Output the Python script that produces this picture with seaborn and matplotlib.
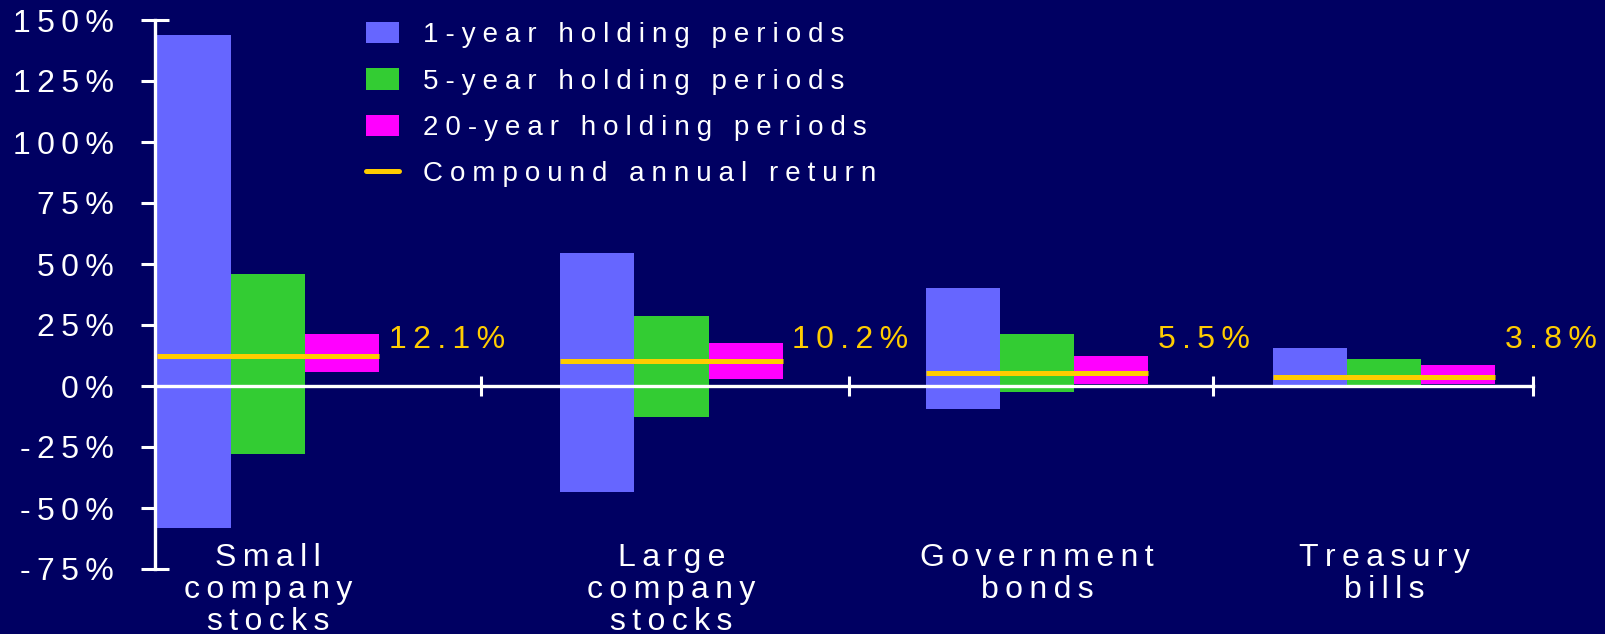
"""
    Range of returns by holding period (1-year, 5-year, 20-year) with compound annual return
"""
import numpy as np
import pandas as pd
import seaborn as sns
import matplotlib.pyplot as plt
from matplotlib.patches import Patch
from matplotlib.lines import Line2D

# data
categories = ['Small\ncompany\nstocks', 'Large\ncompany\nstocks', 'Government\nbonds', 'Treasury\nbills']
periods = ['1-year holding periods', '5-year holding periods', '20-year holding periods']
high_1yr = [143.9, 54.5, 40.2, 15.6]
low_1yr = [-58.1, -43.3, -9.4, 0.4]
high_5yr = [45.9, 28.6, 21.3, 11.1]
low_5yr = [-27.7, -12.6, -2.5, 0.5]
high_20yr = [21.3, 17.6, 12.3, 8.6]
low_20yr = [5.7, 3.0, 0.8, 0.9]
cagr = [12.1, 10.2, 5.5, 3.8]
yticks = [-75, -50, -25, 0, 25, 50, 75, 100, 125, 150]

# layout: group centres / axis ticks along x (the slide spaces groups unevenly)
group_pos = [0.0, 1.07, 2.04, 2.96]
sep_ticks = [0.565, 1.54, 2.505]
x_left, x_right = -0.3, 3.355
group_w = 0.59

BG = '#000062'
colors = ['#6666FF', '#33CC33', '#FF00FF']
YELLOW = '#FFCC00'


def track(s, sp='\u2009'):
    # wide letter spacing like the original slide
    return '\n'.join(sp.join(line) for line in s.split('\n'))


rows = []
for p, hi, lo in zip(periods, [high_1yr, high_5yr, high_20yr], [low_1yr, low_5yr, low_20yr]):
    for x, c, h, l in zip(group_pos, categories, hi, lo):
        rows.append({'x': x, 'category': c, 'period': p, 'high': h, 'low': l})
df = pd.DataFrame(rows)

sns.set_style('dark')
plt.rcParams['font.family'] = ['Liberation Sans', 'DejaVu Sans']

fig = plt.figure(figsize=(16.06, 6.34), dpi=100, facecolor=BG)
ax = fig.add_axes([155 / 1606, 1 - 569 / 634, (1533 - 155) / 1606, 549 / 634])
ax.set_facecolor(BG)

sns.barplot(data=df, x='x', y='high', hue='period', hue_order=periods,
            palette=colors, saturation=1, native_scale=True,
            width=group_w / np.min(np.diff(group_pos)), errorbar=None,
            legend=False, linewidth=0, ax=ax)

# turn the bars into floating ranges low..high
for cont, p in zip(ax.containers, periods):
    sub = df[df['period'] == p]
    for bar, (_, r) in zip(cont, sub.iterrows()):
        bar.set_y(r['low'])
        bar.set_height(r['high'] - r['low'])

gx = np.array(group_pos)
ax.hlines(cagr, gx - group_w / 2, gx + group_w / 2, color=YELLOW, lw=3.6, zorder=5)
for x, c in zip(gx, cagr):
    ax.text(x + group_w / 2 + 0.025, 19, track(f'{c}%'), color=YELLOW, fontsize=23,
            ha='left', va='center')

for x, c in zip(gx, categories):
    ax.text(x, -64.5, track(c), color='white', fontsize=23, ha='center',
            va='top', linespacing=1.08, clip_on=False)

ax.set_xlim(x_left, x_right)
ax.set_ylim(-75, 150)
ax.set_xlabel('')
ax.set_ylabel('')

ax.set_yticks(yticks)
ax.set_yticklabels([track(f'{v}%') for v in yticks])
ax.set_xticks(sep_ticks + [x_right])
ax.tick_params(axis='y', direction='inout', length=19.5, width=2.2, color='white',
               labelcolor='white', labelsize=23, pad=20, left=True)
ax.tick_params(axis='x', direction='inout', length=14, width=2.2, color='white',
               labelbottom=False, bottom=True)
for t in ax.yaxis.get_major_ticks() + ax.xaxis.get_major_ticks():
    t.tick1line.set_clip_on(False)

ax.grid(False)
for s in ['top', 'right']:
    ax.spines[s].set_visible(False)
ax.spines['left'].set_color('white')
ax.spines['left'].set_linewidth(2.4)
ax.spines['bottom'].set_color('white')
ax.spines['bottom'].set_linewidth(2.4)
ax.spines['bottom'].set_position(('data', 0))
ax.spines['bottom'].set_zorder(6)

handles = [Patch(facecolor=c, edgecolor='none') for c in colors]
handles.append(Line2D([0], [0], color=YELLOW, lw=3.6))
labels = [track(p, '\u2005') for p in periods] + [track('Compound annual return', '\u2005')]
leg = fig.legend(handles, labels, loc='upper left', bbox_to_anchor=(366 / 1606, 1 - 22 / 634),
                 frameon=False, fontsize=20, handlelength=1.2, handleheight=0.8,
                 handletextpad=0.85, labelspacing=0.72, borderpad=0, borderaxespad=0)
for t in leg.get_texts():
    t.set_color('white')

fig.savefig('out.png', dpi=100, facecolor=BG)
